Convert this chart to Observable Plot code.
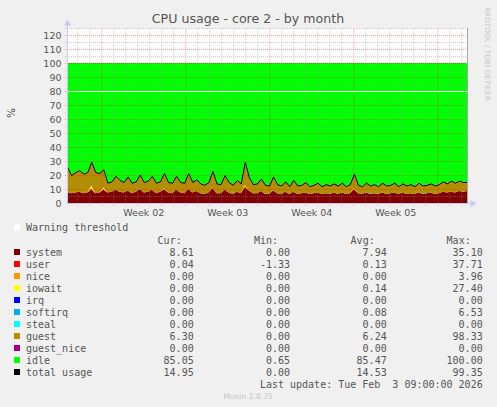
<!DOCTYPE html>
<html><head><meta charset="utf-8">
<script src="https://cdn.jsdelivr.net/npm/d3@7"></script>
<script src="https://cdn.jsdelivr.net/npm/@observablehq/plot@0.6"></script>
<style>
html,body{margin:0;padding:0;background:#f0f0f0;}
#wrap{position:relative;width:497px;height:407px;overflow:hidden;background:#f0f0f0;}
#wrap svg{position:absolute;left:0;top:0;}
</style></head><body><div id="wrap"></div>
<script>
// ---- data ----
const seriesNames = ["system","user","nice","iowait","irq","softirq","steal","guest","guest_nice","idle"];
const seriesColors = ["#800000","#ff0000","#ff9900","#ffff00","#0000ff","#00aaff","#00ffff","#b38f00","#aa0077","#00ff00"];
const system = [7.5,7,7.5,8,7,7.5,9.5,7,7.5,9.5,
 7.5,8,9.5,8,7.5,9,7,8,10,7.5,
 8,9.5,7,8,10,7.5,7,9.5,7.5,7,
 10,7.5,8.5,7,6.5,7.5,10.5,7,7,9.5,
 7.5,6.5,8,7,11,9,7,7,8.5,6.5,
 6.5,9,7,6.5,8,6.5,8,6.5,7,7.5,
 6.5,7,7.5,6.5,7,6.5,7.5,6.5,7.5,6.5,
 7,10,7,6.5,7.5,6.5,7,6.5,7.5,6.5,
 7,7.5,6.5,7.5,6.5,7,6.5,7.5,6.5,7,
 7.5,6.5,7,8,7.5,8,7.5,8.5,8,8.61];
const guest = [18.5,13,14.5,15.5,14,14.5,17,15,14,13,
 7,7.5,10,8.5,7.5,10,7.5,7.5,10.2,7.5,
 8,10,7.5,7.5,11,7.5,7.5,10,7.5,7.5,
 11.5,7.5,8.5,7,6.5,7.5,12,7,6.5,10.5,
 7.5,6.5,8.5,7,16.7,9.5,6.5,7,9,6.5,
 5.7,10,6.5,6,7.5,5.5,8.5,6,6,7.5,
 5.5,6,7,5.5,6.5,6,6.5,6,7,5.5,
 6.5,10.5,6,5.5,7,5.7,6.5,5.5,7,6,
 6,7,5.5,6.5,6,6.5,5.5,7,5.7,6,
 6.5,6,6.5,7.5,6.5,8,7,7.5,7,6.3];
const userSpikes = [[6,1.0],[9,0.5],[36,0.5],[44,1.0],[99,0.04]];
const iowaitSpikes = [[6,2.0],[9,1.0],[24,0.5],[44,0.8],[71,0.5]];
const softirqSpikes = [[18,0.3],[50,0.3],[75,0.3],[88,0.3]];
const yTicks = [0,10,20,30,40,50,60,70,80,90,100,110,120];
const weekLabels = ["Week 02","Week 03","Week 04","Week 05"];
const warningLevel = 80;

const legendNames = ["system","user","nice","iowait","irq","softirq","steal","guest","guest_nice","idle","total usage"];
const legendColors = [...seriesColors, "#000000"];
const legendCur = [8.61,0.04,0.00,0.00,0.00,0.00,0.00,6.30,0.00,85.05,14.95];
const legendMin = [0.00,-1.33,0.00,0.00,0.00,0.00,0.00,0.00,0.00,0.65,0.00];
const legendAvg = [7.94,0.13,0.00,0.14,0.00,0.08,0.00,6.24,0.00,85.47,14.53];
const legendMax = [35.10,37.71,3.96,27.40,0.00,6.53,0.00,98.33,0.00,100.00,99.35];
const titleText = "CPU usage - core 2 - by month";
const lastUpdate = "Last update: Tue Feb  3 09:00:00 2026";

// ---- build ----
const start = new Date(Date.UTC(2026,0,2,3,24));
const spanH = 800;
const end = new Date(+start + spanH*3600e3);
const N = system.length;
const times = d3.range(N).map(i => new Date(+start + i*spanH*3600e3/(N-1)));
function spikes(arr){const a = new Array(N).fill(0); arr.forEach(([i,v])=>a[i]=v); return a;}
const user = spikes(userSpikes), iowait = spikes(iowaitSpikes), softirq = spikes(softirqSpikes);
const zeros = new Array(N).fill(0);
const values = {system, user, nice: zeros, iowait, irq: zeros, softirq, steal: zeros, guest, guest_nice: zeros};
const total = times.map((t,i)=> system[i]+user[i]+iowait[i]+softirq[i]+guest[i]);
values.idle = total.map(v => 100 - v);
const long = [];
seriesNames.forEach(k => times.forEach((t,i) => long.push({t, key:k, v: values[k][i]})));

const pad = 4*3600e3;
const dayTicks = d3.utcDay.range(d3.utcDay.ceil(start), end);
const minorDays = dayTicks.filter(d => d.getUTCDay() !== 1);
const weekTicks = dayTicks.filter(d => d.getUTCDay() === 1);
const weekMids = weekLabels.map((_,k) => new Date(Date.UTC(2026,0,8+7*k,12)));
const labelMap = new Map(weekMids.map((d,k) => [+d, weekLabels[k]]));
const minorY = d3.range(5,126,10);
const majorY = d3.range(10,121,10);
const gridGray = "rgba(140,140,140,0.45)";
const gridRed = "rgba(255,0,0,0.4)";
const axisCol = "#c8c8f0";

const chart = Plot.plot({
  width: 497, height: 220,
  marginLeft: 67, marginRight: 30, marginTop: 28, marginBottom: 17,
  x: {type: "utc", domain: [start, end]},
  y: {domain: [0, 125]},
  color: {domain: seriesNames, range: seriesColors},
  style: {background: "transparent", fontFamily: "DejaVu Sans", fontSize: "9.5px", color: "#555", overflow: "visible"},
  marks: [
    Plot.frame({fill: "white", stroke: "none"}),
    Plot.areaY(long, Plot.stackY({x: "t", y: "v", z: "key", fill: "key", order: seriesNames})),
    Plot.ruleY(minorY, {x1: () => new Date(+start - pad), x2: () => new Date(+end + pad), stroke: gridGray, strokeDasharray: "1,1"}),
    Plot.ruleY(majorY, {x1: () => new Date(+start - pad), x2: () => new Date(+end + pad), stroke: gridRed, strokeDasharray: "1,1"}),
    Plot.ruleX(minorDays, {y1: -2, y2: 125, stroke: gridGray, strokeDasharray: "1,1"}),
    Plot.ruleX(weekTicks, {y1: -2, y2: 125, stroke: gridRed, strokeDasharray: "1,1"}),
    Plot.ruleY([warningLevel], {stroke: "white", strokeWidth: 1}),
    Plot.lineY(times, {x: d => d, y: (d,i) => total[i], stroke: "black", strokeWidth: 1}),
    Plot.ruleX([end], {y1: 0, y2: 125, stroke: "#a8a8a8"}),
    Plot.ruleX([start], {y1: 0, y2: 127, stroke: axisCol}),
    Plot.ruleY([0], {x1: () => start, x2: () => new Date(+end + 2*pad), stroke: axisCol}),
    Plot.dot([0], {x: () => start, y: () => 128.5, symbol: "triangle", r: 2.6, fill: axisCol, stroke: "none"}),
    Plot.dot([0], {x: () => new Date(+end + 2.5*pad), y: () => 0, symbol: "triangle", r: 2.6, rotate: 90, fill: axisCol, stroke: "none"}),
    Plot.axisY({ticks: yTicks, tickSize: 0, tickPadding: 6, label: null}),
    Plot.axisX({ticks: weekMids, tickFormat: d => labelMap.get(+d), tickSize: 0, tickPadding: 5.5, label: null})
  ]
});
document.getElementById("wrap").appendChild(chart);

// ---- overlay texts & legend ----
const svg = d3.select("#wrap").append("svg").attr("width", 497).attr("height", 407);
svg.append("text").attr("x", 248).attr("y", 19).attr("dy", "0.35em").attr("text-anchor", "middle")
  .attr("font-family", "DejaVu Sans").attr("font-size", 12.6).attr("fill", "#555").text(titleText);
svg.append("text").attr("transform", "translate(11,113) rotate(-90)").attr("dy", "0.35em").attr("text-anchor", "middle")
  .attr("font-family", "DejaVu Sans").attr("font-size", 10.5).attr("fill", "#555").text("%");
svg.append("text").attr("transform", "translate(485,101) rotate(90)").attr("text-anchor", "end")
  .attr("font-family", "DejaVu Sans").attr("font-size", 7.3).attr("fill", "#c8c8c8").text("RRDTOOL / TOBI OETIKER");

const mono = "DejaVu Sans Mono";
const lg = svg.append("g").attr("font-family", mono).attr("font-size", 10).attr("fill", "#555");
function row(y, color, label){
  lg.append("rect").attr("x", 14).attr("y", y-3).attr("width", 6).attr("height", 6).attr("fill", color);
  lg.append("text").attr("x", 26).attr("y", y).attr("dy", "0.35em").text(label);
}
row(227.5, "#ffffff", "Warning threshold");
const colEnds = [193.7, 290, 386.7, 482.7];
["Cur:","Min:","Avg:","Max:"].forEach((h,j) => {
  lg.append("text").attr("x", colEnds[j]-12).attr("y", 240).attr("dy", "0.35em").attr("text-anchor", "end").text(h);
});
legendNames.forEach((name,k) => {
  const y = 252 + 12*k;
  row(y, legendColors[k], name);
  [legendCur, legendMin, legendAvg, legendMax].forEach((arr,j) => {
    lg.append("text").attr("x", colEnds[j]).attr("y", y).attr("dy", "0.35em").attr("text-anchor", "end").text(arr[k].toFixed(2));
  });
});
lg.append("text").attr("x", 482.7).attr("y", 384).attr("dy", "0.35em").attr("text-anchor", "end")
  .attr("xml:space", "preserve").style("white-space", "pre").text(lastUpdate);
svg.append("text").attr("x", 248).attr("y", 396).attr("dy", "0.35em").attr("text-anchor", "middle")
  .attr("font-family", "DejaVu Sans").attr("font-size", 7.6).attr("fill", "#c4c4c4").text("Munin 2.0.75");
</script></body></html>
